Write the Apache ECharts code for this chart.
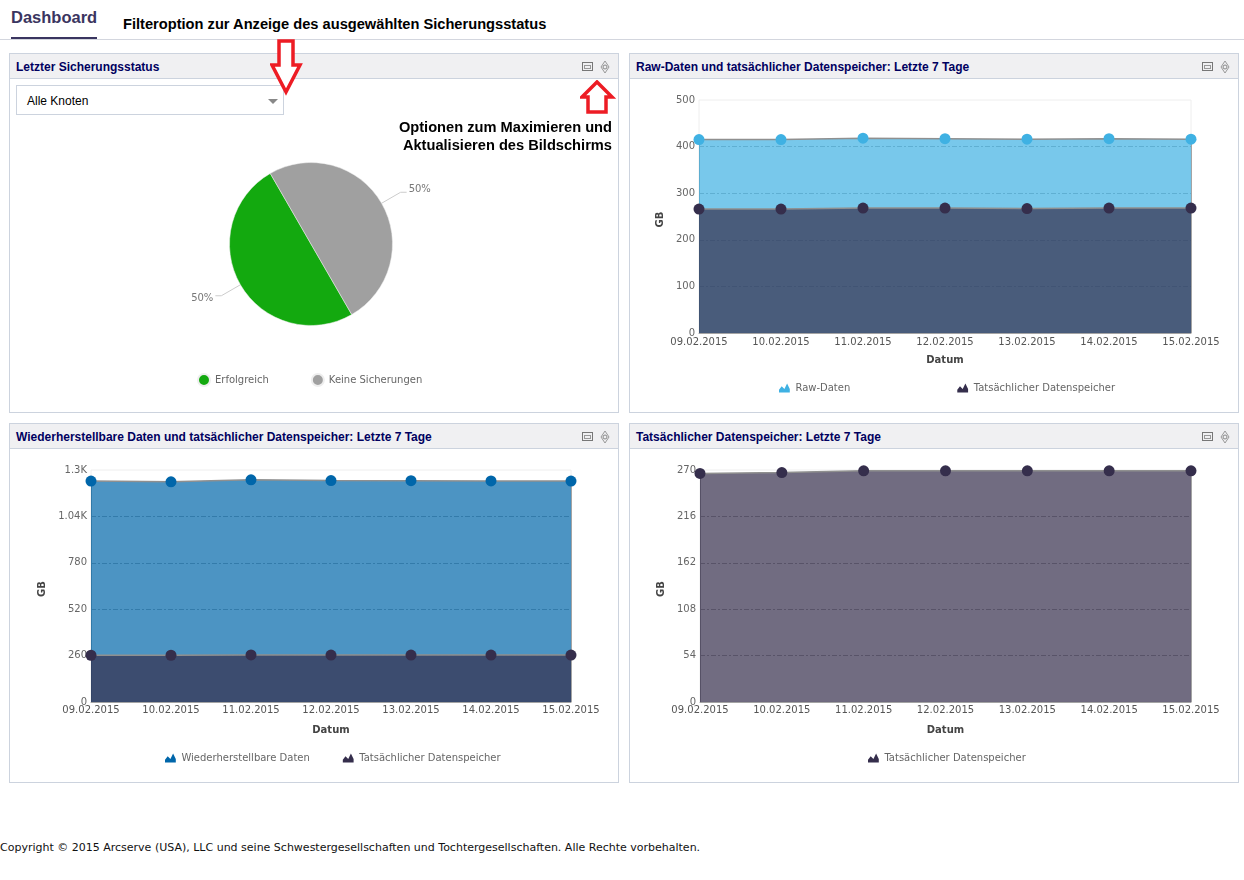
<!DOCTYPE html>
<html>
<head>
<meta charset="utf-8">
<title>Dashboard</title>
<script src="https://cdn.jsdelivr.net/npm/echarts@6/dist/echarts.min.js"></script>
<style>
html, body { margin: 0; padding: 0; background: #fff; }
body { position: relative; width: 1244px; height: 880px; overflow: hidden; font-family: "Liberation Sans", Arial, sans-serif; }
.abs { position: absolute; white-space: nowrap; }
#dash { left: 11px; top: 8px; font-size: 16.5px; line-height: 19px; font-weight: bold; color: #3a3560; }
#dashline { left: 11px; top: 37px; width: 86px; height: 2px; background: #3a3560; }
#topline { left: 0; top: 39px; width: 1244px; height: 1px; background: #d3d6de; }
#note1 { left: 123px; top: 16px; font-size: 14.65px; font-weight: bold; color: #000; }
#note2 { right: 632px; top: 118px; font-size: 14.65px; line-height: 18px; font-weight: bold; color: #000; text-align: right; }
.panel { position: absolute; width: 608px; height: 358px; border: 1px solid #ccd3de; }
.head { position: absolute; left: 0; top: 0; width: 608px; height: 24px; background: #f0f0f2; border-bottom: 1px solid #ccd3de; }
.head b { position: absolute; left: 6px; top: 6px; font-size: 12px; color: #00005f; white-space: nowrap; }
.head svg { position: absolute; left: 570px; top: 5px; }
.chart { position: absolute; left: 0; top: 25px; width: 608px; height: 333px; }
#select { left: 16px; top: 85px; width: 266px; height: 28px; border: 1px solid #ccd3de; background: #fff; font-size: 12px; line-height: 31px; color: #000; text-indent: 10px; }
#select i { position: absolute; right: 5px; top: 13px; width: 0; height: 0; border: 5px solid transparent; border-top: 5px solid #888; border-bottom: 0; }
#copy { left: 0; top: 841px; font-family: "DejaVu Sans", Verdana, sans-serif; font-size: 11px; color: #111; }
</style>
</head>
<body>
<div class="abs" id="dash">Dashboard</div>
<div class="abs" id="dashline"></div>
<div class="abs" id="topline"></div>
<div class="abs" id="note1">Filteroption zur Anzeige des ausgewählten Sicherungsstatus</div>

<div class="panel" style="left:9px;top:53px"><div class="head"><b>Letzter Sicherungsstatus</b></div><div class="chart" id="c1"></div></div>
<div class="panel" style="left:629px;top:53px"><div class="head"><b>Raw-Daten und tatsächlicher Datenspeicher: Letzte 7 Tage</b></div><div class="chart" id="c2"></div></div>
<div class="panel" style="left:9px;top:423px"><div class="head"><b>Wiederherstellbare Daten und tatsächlicher Datenspeicher: Letzte 7 Tage</b></div><div class="chart" id="c3"></div></div>
<div class="panel" style="left:629px;top:423px"><div class="head"><b>Tatsächlicher Datenspeicher: Letzte 7 Tage</b></div><div class="chart" id="c4"></div></div>

<div class="abs" id="select">Alle Knoten<i></i></div>
<div class="abs" id="note2">Optionen zum Maximieren und<br>Aktualisieren des Bildschirms</div>

<svg class="abs" style="left:270px;top:38px" width="34" height="58"><path d="M9 3H23V27H30L16 54L2 27H9Z" fill="#fff" stroke="#ed1c24" stroke-width="3.5"/></svg>
<svg class="abs" style="left:580px;top:80px" width="36" height="35"><path d="M17 2L32 17H26V32H8V17H2Z" fill="#fff" stroke="#ed1c24" stroke-width="3.5"/></svg>

<div class="abs" id="copy">Copyright © 2015 Arcserve (USA), LLC und seine Schwestergesellschaften und Tochtergesellschaften. Alle Rechte vorbehalten.</div>

<script>
const dates = ['09.02.2015', '10.02.2015', '11.02.2015', '12.02.2015', '13.02.2015', '14.02.2015', '15.02.2015'];

const pieNames = ['Erfolgreich', 'Keine Sicherungen'];
const pieValues = [50, 50];

const rawData = [415, 415, 418, 417, 416, 417, 416];
const rawStorage = [266, 266, 268, 268, 267, 268, 268];

const restoreData = [1238, 1234, 1245, 1241, 1240, 1239, 1238];
const restoreStorage = [262, 262, 264, 263, 263, 263, 263];

const storageOnly = [266, 267, 269, 269, 269, 269, 269];

const BLUE = '#3fb1e3', DEEP = '#0066aa', DARK = '#352e4c';
const MOUNTAIN = 'path://M0 10L0 7L3 3L6 6L9 0L12 6L12 10Z';
const TEXT = '"DejaVu Sans", Verdana, sans-serif';

// window buttons in the panel headers
document.querySelectorAll('.head').forEach(h => {
    h.insertAdjacentHTML('beforeend',
        '<svg width="32" height="16"><rect x="2.5" y="3.5" width="10" height="8" fill="none" stroke="#777"/><rect x="4.5" y="6.5" width="6" height="3" fill="none" stroke="#999"/>' +
        '<path d="M25 2L29 8L25 14L21 8Z" fill="none" stroke="#999"/><circle cx="25" cy="8" r="2" fill="none" stroke="#888"/></svg>');
});

function areaSeries(name, data, color, sides) {
    const s = {
        name: name,
        type: 'line',
        data: data,
        symbol: 'circle',
        symbolSize: 11,
        itemStyle: { color: color, borderWidth: 0 },
        lineStyle: { color: '#8f8f8f', width: 1.5 },
        areaStyle: { color: color, opacity: 0.7 }
    };
    if (sides) {
        s.markLine = {
            silent: true,
            z: 1,
            symbol: ['none', 'none'],
            label: { show: false },
            lineStyle: { color: '#a4a4a4', width: 1, type: 'solid' },
            data: [
                [{ coord: [dates[0], 0] }, { coord: [dates[0], data[0]] }],
                [{ coord: [dates[6], 0] }, { coord: [dates[6], data[6]] }]
            ]
        };
    }
    return s;
}

function areaChart(id, conf) {
    const chart = echarts.init(document.getElementById(id));
    chart.setOption({
        animation: false,
        textStyle: { fontFamily: TEXT },
        grid: { left: conf.left, width: conf.width, top: conf.top, height: conf.height, show: true, borderColor: '#eeeeee', borderWidth: 1, backgroundColor: 'transparent' },
        legend: {
            left: conf.legendLeft,
            top: 299,
            itemWidth: 12,
            itemHeight: 9,
            itemGap: conf.legendGap,
            icon: MOUNTAIN,
            textStyle: { fontSize: 10, color: '#666', padding: [1, 0, 0, 0] },
            data: conf.series.map(s => s.name)
        },
        xAxis: {
            type: 'category',
            data: dates,
            boundaryGap: false,
            name: 'Datum',
            nameLocation: 'middle',
            nameGap: conf.xNameGap,
            nameTextStyle: { fontSize: 10, fontWeight: 'bold', color: '#444', fontFamily: TEXT },
            axisLine: { lineStyle: { color: '#a4a4a4' } },
            axisTick: { show: false },
            splitLine: { show: false },
            axisLabel: { interval: 0, fontSize: 10, color: '#555', margin: conf.xMargin, hideOverlap: false }
        },
        yAxis: {
            type: 'value',
            min: 0,
            max: conf.max,
            interval: conf.interval,
            name: 'GB',
            nameLocation: 'middle',
            nameGap: conf.nameGap,
            nameTextStyle: { fontSize: 10, fontWeight: 'bold', color: '#444', fontFamily: TEXT, padding: [0, 6, 0, 0] },
            axisLine: { show: false },
            axisTick: { show: false },
            splitLine: { showMaxLine: false, showMinLine: false, lineStyle: { color: '#aaa', type: [5, 2, 2, 2], width: 1 } },
            axisLabel: {
                fontSize: 10,
                color: '#666',
                margin: 4,
                formatter: v => v >= 1000 ? (v / 1000) + 'K' : v
            }
        },
        series: conf.series
    });
    return chart;
}

const pieChart = echarts.init(document.getElementById('c1'));
pieChart.setOption({
    animation: false,
    textStyle: { fontFamily: TEXT },
    color: ['#13a90f', '#a0a0a0'],
    legend: {
        left: 182,
        top: 289,
        icon: 'circle',
        itemWidth: 12,
        itemHeight: 12,
        itemGap: 42,
        textStyle: { fontSize: 10, color: '#666' },
        data: pieNames
    },
    series: [{
        type: 'pie',
        center: [301, 165],
        radius: 81.5,
        startAngle: 300,
        data: pieNames.map((n, i) => ({ name: n, value: pieValues[i] })),
        itemStyle: { borderColor: '#eee', borderWidth: 0.5 },
        label: { formatter: '{d}%', fontSize: 10, color: '#777' },
        labelLine: { length: 22, length2: 6, lineStyle: { color: '#ccc', width: 1 } },
        labelLayout: params => {
            const d = params.labelRect.x > 300 ? -3 : 3;
            return { dx: d, dy: d };
        }
    }]
});

areaChart('c2', {
    left: 69, width: 492, top: 21, height: 233,
    max: 500, interval: 100, nameGap: 31, xNameGap: 22, xMargin: 4,
    legendLeft: 144, legendGap: 107,
    series: [
        areaSeries('Raw-Daten', rawData, BLUE, true),
        areaSeries('Tatsächlicher Datenspeicher', rawStorage, DARK, false)
    ]
});

areaChart('c3', {
    left: 81, width: 480, top: 21, height: 232,
    max: 1300, interval: 260, nameGap: 44, xNameGap: 23, xMargin: 3,
    legendLeft: 150, legendGap: 33,
    series: [
        areaSeries('Wiederherstellbare Daten', restoreData, DEEP, true),
        areaSeries('Tatsächlicher Datenspeicher', restoreStorage, DARK, false)
    ]
});

areaChart('c4', {
    left: 70, width: 491, top: 21, height: 232,
    max: 270, interval: 54, nameGap: 31, xNameGap: 23, xMargin: 3,
    legendLeft: 233, legendGap: 33,
    series: [
        areaSeries('Tatsächlicher Datenspeicher', storageOnly, DARK, true)
    ]
});
</script>
</body>
</html>
